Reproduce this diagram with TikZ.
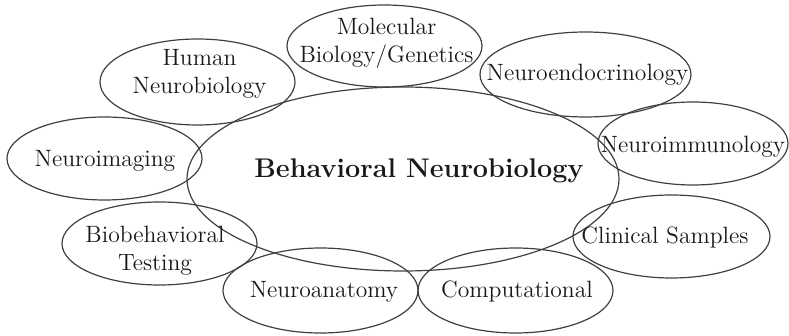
\documentclass[tikz,border=0pt]{standalone}
\usepackage{tikz}
\tikzset{
    topic/.style={ellipse,draw=black!75,line width=0.6pt,inner sep=0pt,minimum width=97.5pt,minimum height=42pt},
    tag/.style={text=black!90,align=center,inner sep=0pt,font=\fontsize{11.8}{14}\selectfont},
    core/.style={tag,font=\fontsize{13.5}{16}\selectfont\bfseries},
}
\usetikzlibrary{shapes}

\begin{document}
\begin{tikzpicture}[x=0.5pt,y=-0.5pt]
\useasboundingbox (0,0) rectangle (789,336);
\node[topic,minimum width=216pt,minimum height=92pt] (Behav) at (403,179) {};
\node[topic,minimum height=43pt] (Human) at (197.5,82) {};
\node[topic,minimum height=41pt] (Molec) at (384.5,46) {};
\node[topic,minimum width=105.5pt,minimum height=42.5pt] (Endo) at (585.5,74.5) {};
\node[topic,minimum width=95pt,minimum height=41.5pt] (Immuno) at (693,143.5) {};
\node[topic,minimum height=41.5pt] (Imaging) at (104.5,158.5) {};
\node[topic,minimum height=41.5pt] (Biobeh) at (159.5,243.5) {};
\node[topic,minimum height=42.5pt] (Anat) at (320.5,290.5) {};
\node[topic,minimum height=42.5pt] (Comp) at (515.5,290.5) {};
\node[topic,minimum width=98.5pt,minimum height=41.5pt] (Clin) at (671.5,236.5) {};
\node[core] (BehavTxt) at (419,171) {Behavioral Neurobiology};
\node[tag] (HumanTxt) at (199.5,73.5) {Human\\Neurobiology};
\node[tag] (MolecTxt) at (386.5,43) {Molecular\\Biology/Genetics};
\node[tag] (EndoTxt) at (587.5,74.5) {Neuroendocrinology};
\node[tag] (ImmunoTxt) at (693,146.5) {Neuroimmunology};
\node[tag] (ImagingTxt) at (105,160.5) {Neuroimaging};
\node[tag] (BiobehTxt) at (155,251) {Biobehavioral\\Testing};
\node[tag] (AnatTxt) at (324,291.5) {Neuroanatomy};
\node[tag] (CompTxt) at (517,291.5) {Computational};
\node[tag] (ClinTxt) at (665,237.5) {Clinical Samples};
\end{tikzpicture}
\end{document}
